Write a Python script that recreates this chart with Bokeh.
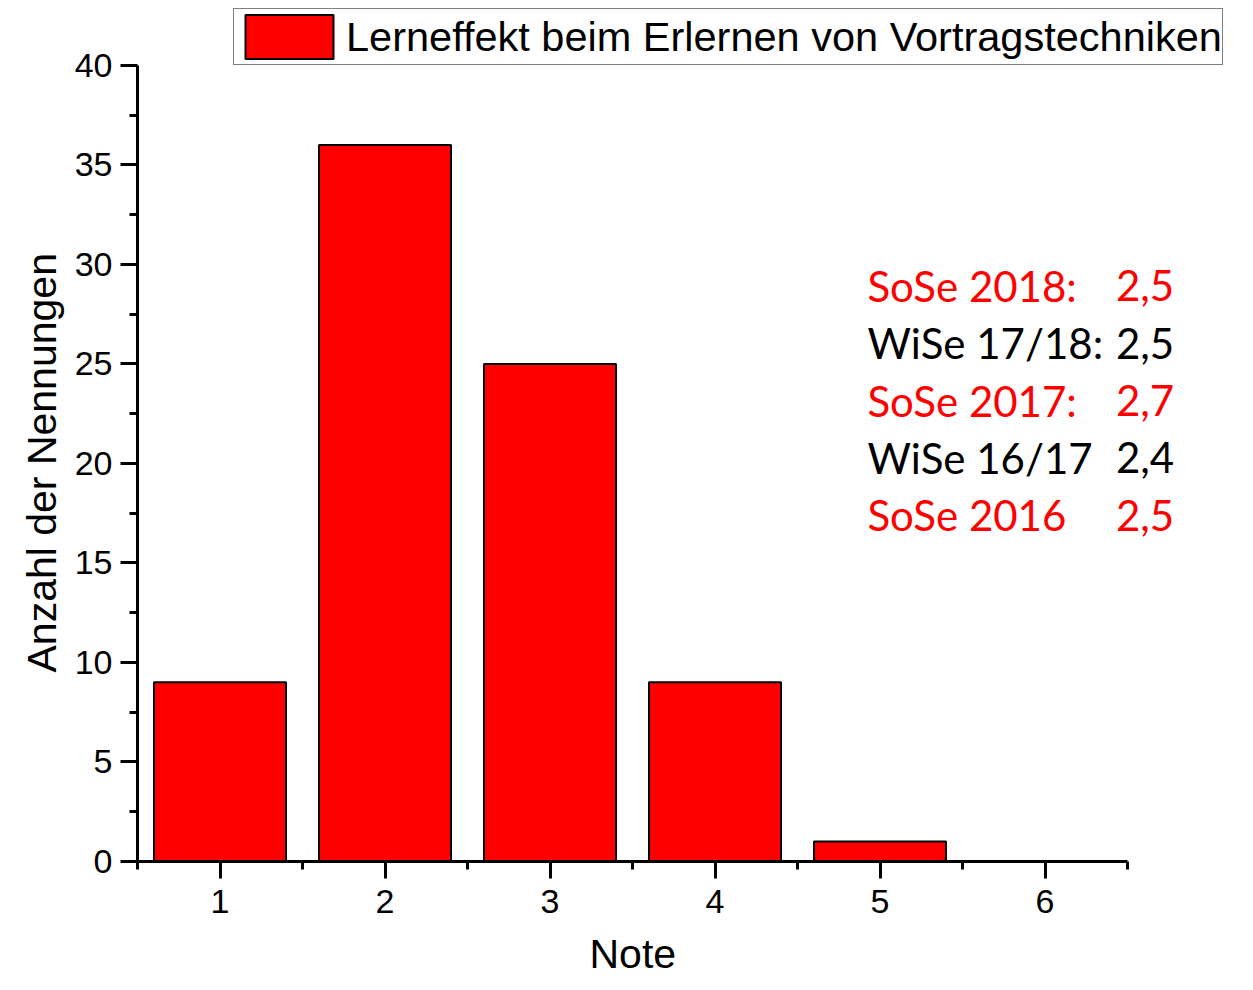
from bokeh.plotting import figure
from bokeh.models import Range1d, FixedTicker, Legend, LegendItem, ColumnDataSource, Title
from bokeh.core.properties import value
from bokeh.embed import file_html
from bokeh.resources import INLINE

# data
noten = [1, 2, 3, 4, 5, 6]
anzahl = [9, 36, 25, 9, 1, 0]
x_minor = [0.5, 1.5, 2.5, 3.5, 4.5, 5.5, 6.5]
series_name = "Lerneffekt beim Erlernen von Vortragstechniken"
x_title = "Note"
y_title = "Anzahl der Nennungen"
sem_names = ["SoSe 2018:", "WiSe 17/18:", "SoSe 2017:", "WiSe 16/17", "SoSe 2016"]
sem_values = ["2,5", "2,5", "2,7", "2,4", "2,5"]
sem_colors = ["#ff0000", "#000000", "#ff0000", "#000000", "#ff0000"]

# layout (pixels)
FL, FR, FT, FB = 137, 1240, 5, 863   # frame edges
AX_R, AX_T = 1127, 65                 # where the axes end
W, H = 1245, 990

x_lo, x_hi = 0.5, 6.5
y_lo, y_hi = 0, 40
x_end = x_lo + (x_hi - x_lo) * (FR - FL) / (AX_R - FL)
y_end = y_lo + (y_hi - y_lo) * (FB - FT) / (FB - AX_T)

p = figure(width=W, height=H, output_backend="svg", toolbar_location=None,
           x_range=Range1d(x_lo, x_end), y_range=Range1d(y_lo, y_end),
           min_border_left=FL, min_border_right=W - FR, min_border_top=FT,
           min_border_bottom=H - FB)
p.outline_line_color = None
p.grid.visible = False
p.background_fill_color = "white"

r = p.vbar(x=noten, top=anzahl, width=0.8, bottom=0, fill_color="#ff0000",
           line_color="black", line_width=2)

FONT = "Liberation Sans"
for ax in (p.xaxis[0], p.yaxis[0]):
    ax.axis_line_width = 3
    ax.major_tick_line_width = 3
    ax.minor_tick_line_width = 3
    ax.major_tick_in = 0
    ax.major_tick_out = 17
    ax.minor_tick_in = 0
    ax.minor_tick_out = 8
    ax.major_label_text_font = FONT
    ax.major_label_text_font_size = "34px"
    ax.major_label_text_color = "black"

p.xaxis.bounds = (x_lo, x_hi)
p.yaxis.bounds = (y_lo, y_hi)
p.xaxis.ticker = FixedTicker(ticks=noten, minor_ticks=x_minor)
p.yaxis.ticker = FixedTicker(ticks=list(range(0, 41, 5)),
                             minor_ticks=[2.5 + 5 * i for i in range(8)])
p.xaxis.major_label_standoff = 11
p.yaxis.major_label_standoff = 8

# axis titles, centred on the axes (not on the wider frame)
xt = Title(text=x_title, align="left", offset=(AX_R - FL) / 2 - 43,
           text_font=FONT, text_font_size="41px", text_font_style="normal",
           text_color="black", standoff=27)
p.add_layout(xt, "below")
yt = Title(text=y_title, align="left", offset=(FB - AX_T) / 2 - 210,
           text_font=FONT, text_font_size="41px", text_font_style="normal",
           text_color="black", standoff=14)
p.add_layout(yt, "left")

# semester annotations
y0 = 28.92
dy = 2.88
ys = [y0 - i * dy for i in range(len(sem_names))]
src = ColumnDataSource(dict(x=[4.924] * len(ys), xv=[6.43] * len(ys), y=ys,
                            name=sem_names, val=sem_values, color=sem_colors))
p.text(x="x", y="y", text="name", text_color="color", source=src,
       text_font=value("Lato"), text_font_size="42px", text_baseline="middle", text_align="left")
p.text(x="xv", y="y", text="val", text_color="color", source=src,
       text_font=value("Lato"), text_font_size="42px", text_baseline="middle", text_align="left")

legend = Legend(items=[LegendItem(label=series_name, renderers=[r])],
                location=(233 - FL, FB - 67))
legend.glyph_width = 110
legend.glyph_height = 55
legend.label_height = 55
legend.label_text_font = FONT
legend.label_text_font_size = "41.5px"
legend.label_text_color = "black"
legend.label_standoff = 2
legend.padding = 0
legend.margin = 0
legend.spacing = 0
legend.border_line_color = "black"
legend.border_line_width = 1
legend.background_fill_alpha = 1
p.add_layout(legend, "center")

open("out.html", "w").write(file_html(p, INLINE))
